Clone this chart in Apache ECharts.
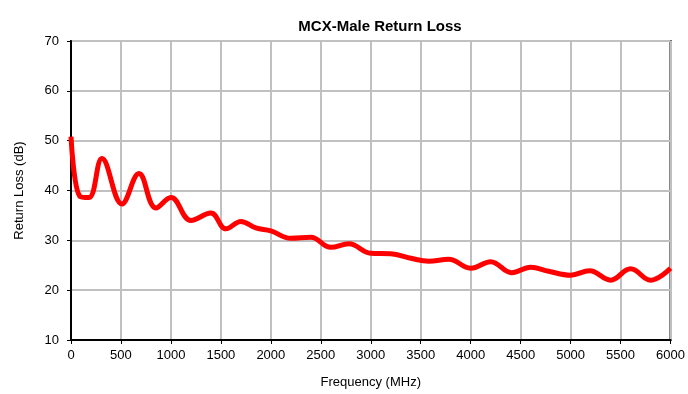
<!DOCTYPE html>
<html>
<head>
<meta charset="utf-8">
<script src="https://cdn.jsdelivr.net/npm/echarts@6/dist/echarts.min.js"></script>
<style>
  html, body { margin: 0; padding: 0; background: #fff; }
  #chart { width: 688px; height: 394px; }
</style>
</head>
<body>
<div id="chart"></div>
<script>
// Measured return loss of the MCX male connector versus frequency
const frequencyMHz = [0, 90, 180, 310, 510, 680, 850, 1000, 1200, 1400, 1550, 1700, 1850, 2000, 2200, 2400, 2600, 2780, 3000, 3200, 3400, 3580, 3780, 4000, 4200, 4410, 4600, 4780, 5000, 5190, 5400, 5600, 5800, 6000];
const returnLossDb = [50.8, 38.8, 38.6, 46.4, 37.3, 43.4, 36.5, 38.6, 34.0, 35.5, 32.3, 33.8, 32.5, 31.9, 30.4, 30.6, 28.6, 29.3, 27.4, 27.3, 26.4, 25.8, 26.2, 24.4, 25.7, 23.5, 24.6, 23.8, 23.0, 23.9, 22.0, 24.3, 22.0, 24.4];

const xTicks = { min: 0, max: 6000, step: 500 };
const yTicks = { min: 10, max: 70, step: 10 };

const points = frequencyMHz.map((f, i) => [f, returnLossDb[i]]);
const font = 'Liberation Sans, Arial, sans-serif';

const chart = echarts.init(document.getElementById('chart'), null, { renderer: 'canvas' });
chart.setOption({
  animation: false,
  backgroundColor: '#ffffff',
  title: {
    text: 'MCX-Male Return Loss',
    left: 375,
    textAlign: 'center',
    top: 14,
    textStyle: { fontFamily: font, fontSize: 15, fontWeight: 'bold', color: '#000' }
  },
  grid: {
    left: 71, right: 16, top: 41, bottom: 49,
    show: true, borderColor: '#000', borderWidth: 2,
    containLabel: false
  },
  xAxis: {
    type: 'value',
    min: xTicks.min, max: xTicks.max, interval: xTicks.step,
    name: 'Frequency (MHz)',
    nameLocation: 'middle',
    nameGap: 36,
    nameTextStyle: { fontFamily: font, fontSize: 13, color: '#000' },
    axisLine: { lineStyle: { color: '#000', width: 2 } },
    axisTick: { show: true, length: 4, inside: false, lineStyle: { color: '#000', width: 1 } },
    axisLabel: { fontFamily: font, fontSize: 13, color: '#000', margin: 9, formatter: v => String(v) },
    splitLine: { show: true, lineStyle: { color: '#c0c0c0', width: 2 } }
  },
  yAxis: {
    type: 'value',
    min: yTicks.min, max: yTicks.max, interval: yTicks.step,
    name: 'Return Loss (dB)',
    nameLocation: 'middle',
    nameGap: 45,
    nameRotate: 90,
    nameTextStyle: { fontFamily: font, fontSize: 13, color: '#000' },
    axisLine: { show: true, lineStyle: { color: '#000', width: 2 } },
    axisTick: { show: true, length: 4, inside: false, lineStyle: { color: '#000', width: 1 } },
    axisLabel: { fontFamily: font, fontSize: 13, color: '#000', margin: 12 },
    splitLine: { show: true, lineStyle: { color: '#c0c0c0', width: 2 } }
  },
  series: [{
    type: 'line',
    data: points,
    smooth: 0.4,
    showSymbol: false,
    clip: true,
    lineStyle: { color: '#ff0000', width: 5 }
  }]
});
</script>
</body>
</html>
